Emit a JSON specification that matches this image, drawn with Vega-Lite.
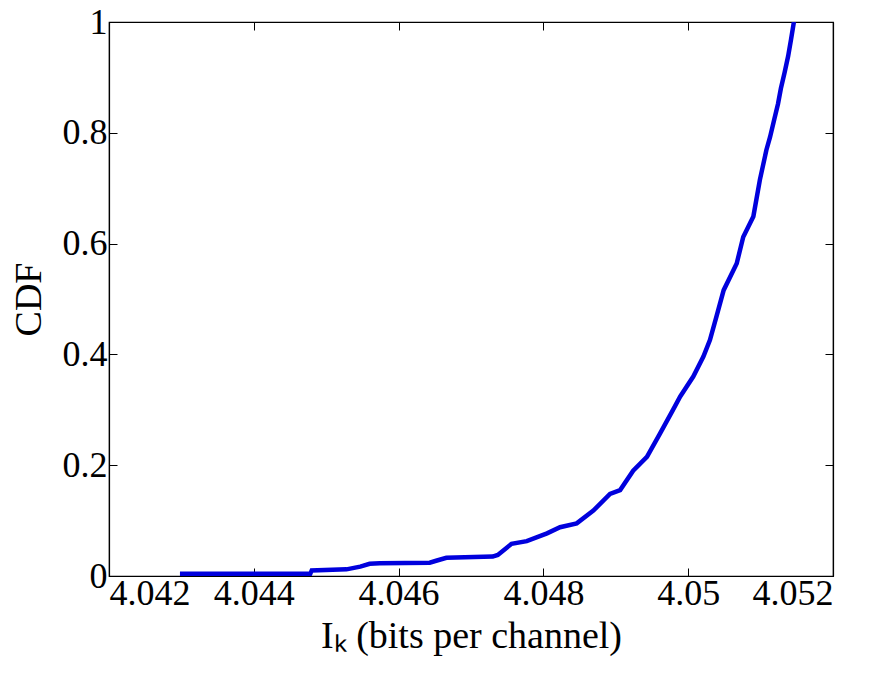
{
  "$schema": "https://vega.github.io/schema/vega-lite/v6.json",
  "autosize": "none",
  "width": 724,
  "height": 554,
  "padding": {"left": 109, "top": 22, "right": 43, "bottom": 105},
  "background": "white",
  "config": {
    "view": {"stroke": "black", "strokeWidth": 1.2},
    "axis": {
      "grid": false,
      "domainColor": "black",
      "domainWidth": 1.2,
      "tickColor": "black",
      "tickSize": -8,
      "tickWidth": 1,
      "labelFont": "Liberation Serif",
      "labelFontSize": 36,
      "labelColor": "black",
      "titleFont": "Liberation Serif",
      "titleFontSize": 38,
      "titleFontWeight": "normal",
      "titleColor": "black"
    }
  },
  "data": {
    "values": [
      {"x": 4.04298, "cdf": 0.004},
      {"x": 4.04478, "cdf": 0.004},
      {"x": 4.04480, "cdf": 0.010},
      {"x": 4.04528, "cdf": 0.012},
      {"x": 4.04547, "cdf": 0.017},
      {"x": 4.04560, "cdf": 0.022},
      {"x": 4.04574, "cdf": 0.023},
      {"x": 4.04643, "cdf": 0.024},
      {"x": 4.04653, "cdf": 0.028},
      {"x": 4.04666, "cdf": 0.033},
      {"x": 4.04730, "cdf": 0.035},
      {"x": 4.04737, "cdf": 0.038},
      {"x": 4.04756, "cdf": 0.058},
      {"x": 4.04777, "cdf": 0.063},
      {"x": 4.04805, "cdf": 0.077},
      {"x": 4.04823, "cdf": 0.088},
      {"x": 4.04846, "cdf": 0.095},
      {"x": 4.04869, "cdf": 0.118},
      {"x": 4.04892, "cdf": 0.148},
      {"x": 4.04906, "cdf": 0.155},
      {"x": 4.04924, "cdf": 0.190},
      {"x": 4.04943, "cdf": 0.215},
      {"x": 4.04961, "cdf": 0.257},
      {"x": 4.04979, "cdf": 0.300},
      {"x": 4.04989, "cdf": 0.324},
      {"x": 4.05007, "cdf": 0.360},
      {"x": 4.05021, "cdf": 0.396},
      {"x": 4.05030, "cdf": 0.426},
      {"x": 4.05039, "cdf": 0.468},
      {"x": 4.05049, "cdf": 0.516},
      {"x": 4.05067, "cdf": 0.564},
      {"x": 4.05076, "cdf": 0.612},
      {"x": 4.05090, "cdf": 0.649},
      {"x": 4.05099, "cdf": 0.715},
      {"x": 4.05108, "cdf": 0.769},
      {"x": 4.05113, "cdf": 0.792},
      {"x": 4.05119, "cdf": 0.825},
      {"x": 4.05124, "cdf": 0.852},
      {"x": 4.05128, "cdf": 0.880},
      {"x": 4.05133, "cdf": 0.908},
      {"x": 4.05138, "cdf": 0.938},
      {"x": 4.05142, "cdf": 0.968},
      {"x": 4.05146, "cdf": 1.0}
    ]
  },
  "layer": [
    {
      "mark": {"type": "line", "color": "#0000dd", "strokeWidth": 4.5, "clip": true},
      "encoding": {
        "x": {
          "field": "x", "type": "quantitative",
          "scale": {"domain": [4.042, 4.052], "nice": false, "zero": false},
          "axis": {
            "values": [4.042, 4.044, 4.046, 4.048, 4.05, 4.052],
            "labelExpr": "format(datum.value, '~g')",
            "labelPadding": 8,
            "title": "Iₖ (bits per channel)",
            "titlePadding": 6
          }
        },
        "y": {
          "field": "cdf", "type": "quantitative",
          "scale": {"domain": [0, 1], "nice": false},
          "axis": {
            "values": [0, 0.2, 0.4, 0.6, 0.8, 1],
            "labelExpr": "format(datum.value, '~g')",
            "labelPadding": 10,
            "title": "CDF",
            "titlePadding": 14
          }
        }
      }
    },
    {
      "mark": {"type": "line", "opacity": 0},
      "encoding": {
        "x": {
          "field": "x", "type": "quantitative",
          "scale": {"domain": [4.042, 4.052], "nice": false, "zero": false},
          "axis": {"orient": "top", "values": [4.042, 4.044, 4.046, 4.048, 4.05, 4.052], "labels": false, "title": null}
        },
        "y": {
          "field": "cdf", "type": "quantitative",
          "scale": {"domain": [0, 1], "nice": false},
          "axis": {"orient": "right", "values": [0, 0.2, 0.4, 0.6, 0.8, 1], "labels": false, "title": null}
        }
      }
    }
  ],
  "resolve": {"axis": {"x": "independent", "y": "independent"}}
}
